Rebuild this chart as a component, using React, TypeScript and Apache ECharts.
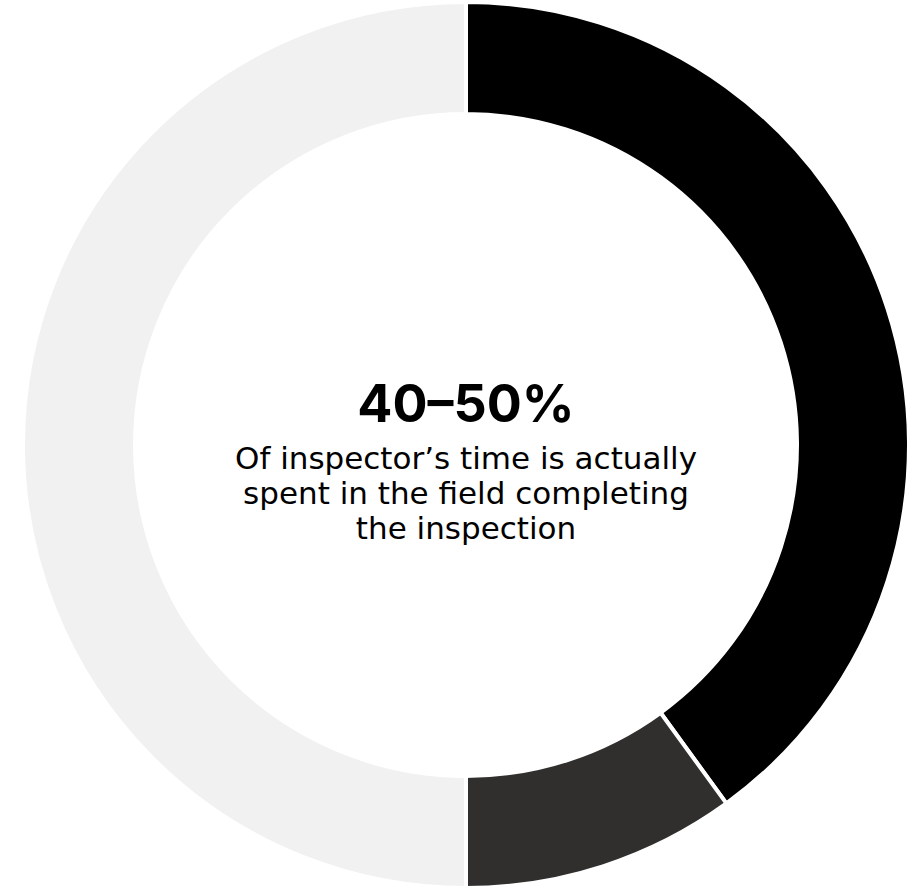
import React, { useEffect, useRef } from "react";
import * as echarts from "echarts";

const categories = ["In the field", "Other tasks", "Remaining"];
const values = [40, 10, 50];
const colors = ["#000000", "#302f2d", "#f1f1f1"];
const headline = "40–50%";
const captionLines = [
  "Of inspector’s time is actually",
  "spent in the field completing",
  "the inspection",
];

export default function App() {
  const ref = useRef<HTMLDivElement>(null);
  useEffect(() => {
    if (!ref.current) return;
    const chart = echarts.init(ref.current, undefined, { renderer: "svg" });
    const cx = 466;
    chart.setOption({
      animation: false,
      backgroundColor: "#ffffff",
      series: [
        {
          type: "pie",
          center: [cx, 445],
          radius: [331, 443],
          startAngle: 90,
          clockwise: true,
          label: { show: false },
          labelLine: { show: false },
          silent: true,
          itemStyle: { borderColor: "#ffffff", borderWidth: 4 },
          data: categories.map((name, i) => ({
            name,
            value: values[i],
            itemStyle: { color: colors[i] },
          })),
        },
      ],
      graphic: [
        {
          type: "text",
          x: cx,
          y: 403,
          style: {
            text: headline,
            fill: "#000000",
            font: "bold 52px Inter",
            textAlign: "center",
            textVerticalAlign: "middle",
          },
        },
        ...captionLines.map((line, i) => ({
          type: "text",
          x: cx,
          y: 458 + i * 35,
          style: {
            text: line,
            fill: "#000000",
            font: "31px 'DejaVu Sans'",
            textAlign: "center",
            textVerticalAlign: "middle",
          },
        })),
      ],
    });
    return () => chart.dispose();
  }, []);
  return (
    <div
      ref={ref}
      style={{ position: "fixed", left: 0, top: 0, width: 918, height: 886 }}
    />
  );
}
